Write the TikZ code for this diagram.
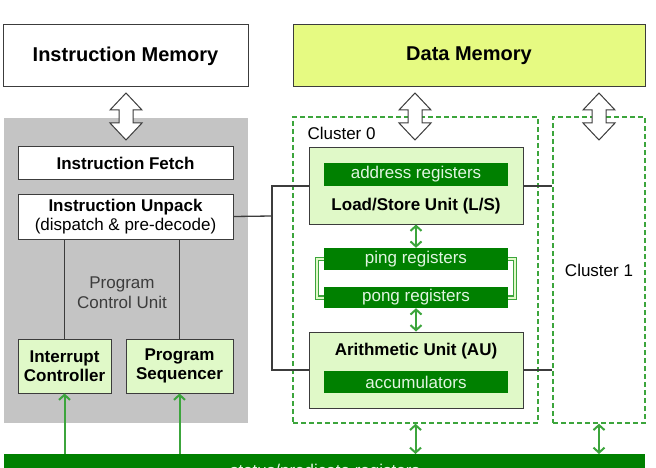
\documentclass[tikz,border=0pt]{standalone}
\usepackage{fontspec}
\setmainfont{Liberation Sans}
\usetikzlibrary{arrows.meta}
\definecolor{lgreen}{RGB}{224,249,200}
\definecolor{ymem}{RGB}{230,250,130}
\definecolor{dgreen}{RGB}{0,128,0}
\definecolor{mgreen}{RGB}{60,165,60}
\definecolor{pgray}{RGB}{196,196,196}
\definecolor{edge}{RGB}{60,60,60}
\definecolor{regtext}{RGB}{225,245,225}
\tikzset{
  txt/.style={font=\fontsize{17}{19}\selectfont},
  box/.style={draw=edge, line width=1pt, inner sep=0pt, align=center, txt},
  membox/.style={box, font=\fontsize{20}{22}\selectfont\bfseries},
  unitbox/.style={box, fill=lgreen},
  regbar/.style={fill=dgreen, inner sep=0pt, text=regtext, txt},
  cluster/.style={draw=mgreen, line width=1.4pt, dash pattern=on 5pt off 3pt},
  wire/.style={draw=edge, line width=1.3pt},
  garrow/.style={draw=mgreen, line width=2pt, {Straight Barb[length=5pt,width=11pt]}-{Straight Barb[length=5pt,width=11pt]}},
  gup/.style={draw=mgreen, line width=2pt, -{Straight Barb[length=5pt,width=11pt]}},
  hollow/.style={draw=edge, fill=white, line width=1pt, line join=miter},
  bracket/.style={draw=mgreen, line width=1.1pt, double=lgreen, double distance=2pt}
}
\begin{document}
\begin{tikzpicture}[x=1pt,y=-1pt]
\useasboundingbox (0,0) rectangle (656,468);
\clip (0,0) rectangle (656,468);
% memories
\node[membox, minimum width=245, minimum height=62] (IM) at (125.5,56) {Instruction Memory};
\node[membox, fill=ymem, minimum width=352, minimum height=62] (DM) at (469,56) {Data Memory};
% program control unit
\node[fill=pgray, inner sep=0pt, minimum width=244, minimum height=305] (PCU) at (126,270.5) {};
\node[txt, align=center, text=edge] (PCUl) at (122,293) {Program\\[1pt]Control Unit};
\node[box, fill=white, font=\fontsize{17}{19}\selectfont\bfseries, minimum width=215, minimum height=32] (IF) at (125.5,163) {Instruction Fetch};
\node[box, fill=white, minimum width=215, minimum height=45] (IU) at (125.5,216.5) {\textbf{Instruction Unpack}\\(dispatch \& pre-decode)};
\node[unitbox, font=\fontsize{17}{18.5}\selectfont\bfseries, minimum width=93, minimum height=54] (IC) at (64.5,366) {Interrupt\\Controller};
\node[unitbox, font=\fontsize{17}{18.5}\selectfont\bfseries, minimum width=107, minimum height=54] (PS) at (179.5,366) {Program\\Sequencer};
\draw[wire] (IC.north) -- (IC.north |- IU.south);
\draw[wire] (PS.north) -- (PS.north |- IU.south);
% clusters
\node[cluster, minimum width=245, minimum height=306, inner sep=0pt] (C0) at (415.5,270) {};
\node[cluster, minimum width=92, minimum height=306, inner sep=0pt] (C1) at (599,270) {};
\node[txt, anchor=west] (C0l) at (304,133) {Cluster 0};
\node[txt] (C1l) at (599,270) {Cluster 1};
% units
\node[unitbox, minimum width=214, minimum height=76] (LS) at (416,186) {};
\node[regbar, minimum width=184, minimum height=23] (AR) at (416,174.5) {address registers};
\node[txt, font=\fontsize{17}{19}\selectfont\bfseries] (LSl) at (416,206) {Load/Store Unit (L/S)};
\node[unitbox, minimum width=214, minimum height=76] (AU) at (416,370) {};
\node[txt, font=\fontsize{17}{19}\selectfont\bfseries] (AUl) at (416,351) {Arithmetic Unit (AU)};
\node[regbar, minimum width=184, minimum height=22] (ACC) at (416,382) {accumulators};
% ping pong
\draw[bracket] (324,259) -- (317,259) -- (317,297.5) -- (324,297.5);
\draw[bracket] (508,259) -- (515,259) -- (515,297.5) -- (508,297.5);
\node[regbar, minimum width=184, minimum height=22] (PING) at (416,259) {ping registers};
\node[regbar, minimum width=184, minimum height=21] (PONG) at (416,297.5) {pong registers};
% status bar
\node[fill=dgreen, inner sep=0pt, minimum width=641, minimum height=36, anchor=north west] (SB) at (4,454) {};
\node[txt, text=regtext] (SBl) at (325,472) {status/predicate registers};
% black wires
\coordinate (J) at (272,216);
\draw[wire] (IU.east) -- (J);
\draw[wire] (LS.west) -| (J) |- (AU.west);
\draw[wire] (LS.east) -- (LS.east -| C1.west);
\draw[wire] (AU.east) -- (AU.east -| C1.west);
% green arrows
\draw[garrow] (LS.south) -- (PING.north);
\draw[garrow] (PONG.south) -- (AU.north);
\draw[garrow] (C0.south) -- (C0.south |- SB.north);
\draw[garrow] (C1.south) -- (C1.south |- SB.north);
\draw[gup] (IC.south |- SB.north) -- (IC.south);
\draw[gup] (PS.south |- SB.north) -- (PS.south);
% hollow double arrows
\foreach \c in {126, 415, 599}{
  \draw[hollow] (\c,93) -- (\c+16,110) -- (\c+7,110) -- (\c+7,123) -- (\c+16,123) -- (\c,140)
     -- (\c-16,123) -- (\c-7,123) -- (\c-7,110) -- (\c-16,110) -- cycle;
}
\end{tikzpicture}
\end{document}
